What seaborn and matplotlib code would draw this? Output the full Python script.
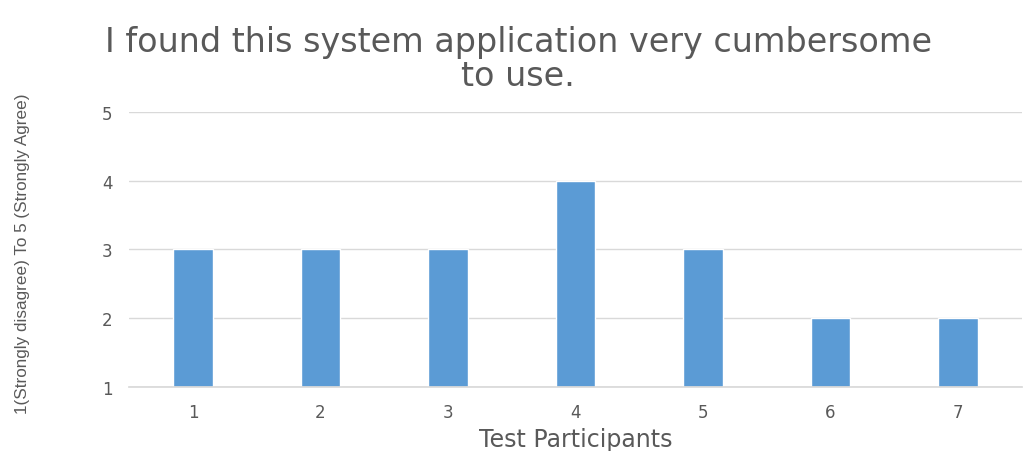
import matplotlib
matplotlib.use("Agg")
import matplotlib.pyplot as plt
import seaborn as sns
import pandas as pd

participants = ["1", "2", "3", "4", "5", "6", "7"]
scores = [3, 3, 3, 4, 3, 2, 2]
yticks = [1, 2, 3, 4, 5]

sns.set_theme(style="white")
plt.rcParams['font.family'] = ['DejaVu Sans']

base = 1
df = pd.DataFrame({"Participant": participants, "Height": [s - base for s in scores]})

fig = plt.figure(figsize=(10.26, 4.52), dpi=100)
ax = fig.add_axes([0.126, 0.142, 0.870, 0.608])
sns.barplot(data=df, x="Participant", y="Height", bottom=base, color="#5B9BD5",
            width=0.31, saturation=1, ax=ax)
ax.set_ylim(1, 5)
ax.set_yticks(yticks)
ax.set_yticklabels([str(t) for t in yticks], color="#595959", fontsize=12)
ax.set_xticks(range(len(participants)))
ax.set_xticklabels(participants, color="#595959", fontsize=12)
ax.grid(axis="y", color="#D9D9D9", linewidth=1)
ax.set_axisbelow(True)
for s in ["top", "right", "left"]:
    ax.spines[s].set_visible(False)
ax.spines["bottom"].set_color("#D9D9D9")
ax.tick_params(axis="both", length=0, pad=12)
ax.set_xlabel("Test Participants", color="#595959", fontsize=17, labelpad=4)
ax.set_ylabel("1(Strongly disagree) To 5 (Strongly Agree)", color="#595959", fontsize=12.3,
              family=['Liberation Sans', 'DejaVu Sans'])
ax.yaxis.set_label_coords(-0.111, 0.487)
fig.text(0.505, 0.868, "I found this system application very cumbersome\nto use.",
         ha="center", va="center", fontsize=24, color="#595959", linespacing=1.05)
fig.savefig("out.png", dpi=100)
